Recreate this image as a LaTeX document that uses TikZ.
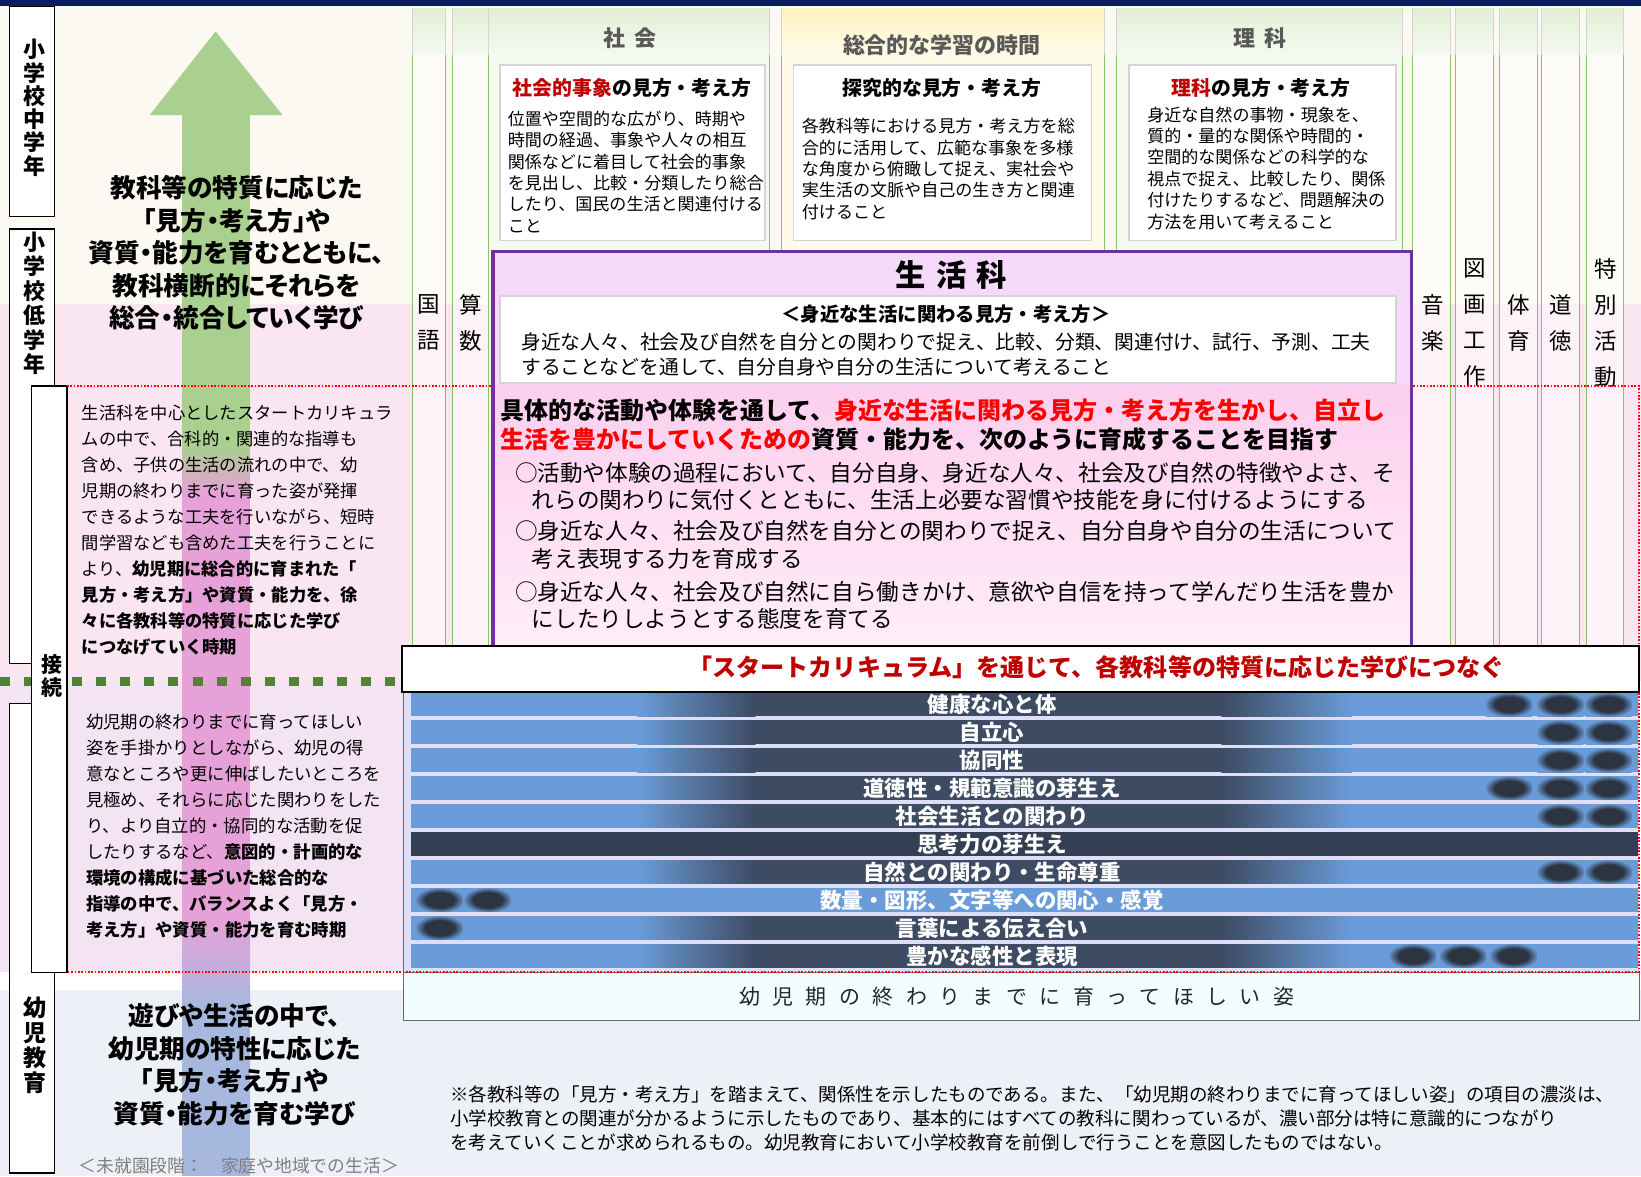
\documentclass[tikz,border=0pt]{standalone}
\usepackage{fontspec}
\setmainfont{Noto Sans CJK JP}
\newfontfamily\jpp{Noto Sans CJK JP}[RawFeature=+palt]
\definecolor{navybar}{HTML}{0B1F5C}
\definecolor{bgcream}{HTML}{FBF9F1}
\definecolor{bgpink}{HTML}{FAE6F1}
\definecolor{bglav}{HTML}{F4E3F2}
\definecolor{bgblue}{HTML}{EEF0F7}
\definecolor{arrgreen}{HTML}{A9D08E}
\definecolor{arrpink}{HTML}{E6A2D8}
\definecolor{arrblue}{HTML}{A7B8DE}
\definecolor{colgreen}{HTML}{8CC168}
\definecolor{colhead}{HTML}{E2EFD6}
\definecolor{colbody}{HTML}{F5FAF0}
\definecolor{yelhead}{HTML}{FFF2C2}
\definecolor{yelbody}{HTML}{FFFBE9}
\definecolor{boxgray}{HTML}{D4D4D4}
\definecolor{headgray}{HTML}{595959}
\definecolor{deepred}{HTML}{C00000}
\definecolor{brightred}{HTML}{FF0000}
\definecolor{skpurple}{HTML}{7030A0}
\definecolor{sktop}{HTML}{F5D9F8}
\definecolor{skpinktop}{HTML}{FDCFEF}
\definecolor{skpinkbot}{HTML}{FFEEF7}
\definecolor{dotgreen}{HTML}{548235}
\definecolor{barlight}{HTML}{6A9CD9}
\definecolor{bardark}{HTML}{3D4B63}
\definecolor{bardeep}{HTML}{343F54}
\definecolor{blobdark}{HTML}{2C3442}
\definecolor{gaplav}{HTML}{DEDFF7}
\definecolor{endfill}{HTML}{F2FDFE}
\definecolor{endline}{HTML}{5E6B7D}
\definecolor{notegray}{HTML}{7F7F7F}
\pgfdeclareradialshading{blob}{\pgfpoint{0bp}{0bp}}{color(0bp)=(blobdark); color(16bp)=(blobdark); color(27bp)=(barlight); color(50bp)=(barlight)}
\newcommand{\kgap}{\hspace{11.9pt}}
\tikzset{
  stagebox/.style={draw=black, line width=1.4pt, fill=white},
  stagelabel/.style={font=\bfseries\fontsize{21}{22.2}\selectfont, align=center, inner sep=0pt, anchor=north},
  bigbold/.style={font=\jpp\bfseries\fontsize{24.5}{31}\selectfont, align=center, inner sep=0pt, anchor=north},
  leftbody/.style={align=left, inner sep=0pt, anchor=north west, text=black},
  subjlabel/.style={font=\fontsize{21.5}{34.3}\selectfont, align=center, inner sep=0pt, anchor=north},
  colhead/.style={font=\bfseries\fontsize{21}{24}\selectfont, text=headgray, inner sep=0pt},
  whitebox/.style={draw=boxgray, line width=1.5pt, fill=white},
  boxtitle/.style={font=\bfseries\fontsize{19}{22}\selectfont, inner sep=0pt},
  boxbody/.style={font=\fontsize{16.3}{20.4}\selectfont, align=left, inner sep=0pt, anchor=north west},
  skbold/.style={font=\bfseries\fontsize{22.9}{28}\selectfont, inner sep=0pt, anchor=west},
  skitem/.style={font=\fontsize{21.6}{26.3}\selectfont, align=left, inner sep=0pt, anchor=north west},
  skline/.style={font=\fontsize{18.9}{24}\selectfont, inner sep=0pt, anchor=west},
  bartext/.style={font=\bfseries\fontsize{20.5}{22}\selectfont, text=white, inner sep=0pt},
  column/.style={draw=colgreen, line width=0.9pt},
}
\begin{document}
\begin{tikzpicture}[x=1pt,y=-1pt]
\useasboundingbox (0,0) rectangle (1568,1124);
\fill[white] (0,0) rectangle (1568,1124);
\fill[bgcream] (0,6) rectangle (1568,290);
\fill[bgpink] (0,290) rectangle (1568,651);
\fill[bglav] (0,651) rectangle (385,929);
\fill[bgblue] (0,946) rectangle (1568,1124);
\fill[navybar] (0,0) rectangle (1568,6);

\fill[arrgreen] (143,110) -- (206,30) -- (270,110) -- cycle;
\fill[arrgreen] (174,108) rectangle (239,425);
\shade[top color=arrgreen, bottom color=arrpink] (174,424.5) rectangle (239,470);
\fill[arrpink] (174,469.5) rectangle (239,880);
\shade[top color=arrpink, bottom color=arrblue] (174,879.5) rectangle (239,960);
\fill[arrblue] (174,959.5) rectangle (239,1124);

\foreach \xa/\xb in {394/426,432/467,1350/1386,1391/1427,1433/1469,1473/1509,1516/1551} {
  \shade[top color=colhead, bottom color=colbody] (\xa,8) rectangle (\xb,53);
  \fill[white, fill opacity=0.5] (\xa,53) rectangle (\xb,617);
  \draw[boxgray, line width=0.8pt] (\xa,8) -- (\xa,53) (\xb,8) -- (\xb,53);
  \draw[column] (\xa,53) -- (\xa,617) (\xb,53) -- (\xb,617);
}
\foreach \xa/\xb/\ch/\cb in {467/735/colhead/colbody,747/1055/yelhead/yelbody,1067/1340/colhead/colbody} {
  \shade[top color=\ch, bottom color=\cb] (\xa,8) rectangle (\xb,53);
  \fill[\cb] (\xa,53) rectangle (\xb,617);
  \draw[boxgray, line width=0.8pt] (\xa,8) -- (\xa,53) (\xb,8) -- (\xb,53);
  \draw[column] (\xa,53) -- (\xa,617) (\xb,53) -- (\xb,617);
}

\node[colhead] (shakaihead) at (602,36) {社\hspace{9pt}会};
\node[colhead] (sogohead) at (900,43) {総合的な学習の時間};
\node[colhead] (rikahead) at (1204,36) {理\hspace{9pt}科};

\draw[whitebox] (478,62) rectangle (731,230);
\node[boxtitle] (shakaititle) at (604,84) {\textcolor{deepred}{社会的事象}の見方・考え方};
\node[boxbody] (shakaibody) at (485,105.85) {位置や空間的な広がり、時期や\\時間の経過、事象や人々の相互\\関係などに着目して社会的事象\\を見出し、比較・分類したり総合\\したり、国民の生活と関連付ける\\こと};
\draw[whitebox] (758,62) rectangle (1043,230);
\node[boxtitle] (sogotitle) at (900,84) {探究的な見方・考え方};
\node[boxbody] (sogobody) at (766,112.85) {各教科等における見方・考え方を総\\合的に活用して、広範な事象を多様\\な角度から俯瞰して捉え、実社会や\\実生活の文脈や自己の生き方と関連\\付けること};
\draw[whitebox] (1079,62) rectangle (1334,230);
\node[boxtitle] (rikatitle) at (1205,84) {\textcolor{deepred}{理科}の見方・考え方};
\node[boxbody] (rikabody) at (1096,101.85) {身近な自然の事物・現象を、\\質的・量的な関係や時間的・\\空間的な関係などの科学的な\\視点で捉え、比較したり、関係\\付けたりするなど、問題解決の\\方法を用いて考えること};

\node[subjlabel] (kokugo) at (410,281.25) {国\\語};
\node[subjlabel] (sansu) at (450,281.25) {算\\数};
\node[subjlabel] (ongaku) at (1369,281.25) {音\\楽};
\node[subjlabel] (zuga) at (1409,247.25) {図\\画\\工\\作};
\node[subjlabel] (taiiku) at (1451,281.25) {体\\育};
\node[subjlabel] (dotoku) at (1491,281.25) {道\\徳};
\node[subjlabel] (tokkatsu) at (1534,247.25) {特\\別\\活\\動};

\draw[dotgreen, line width=9pt, dash pattern=on 9.5pt off 13.5pt] (0,651) -- (385,651);

\draw[stagebox] (9,6) rectangle (52,207);
\node[stagelabel] (chugaku) at (33,37.5) {小\\学\\校\\中\\学\\年};
\draw[stagebox] (9,219) rectangle (52,634);
\node[stagelabel, font=\bfseries\fontsize{21}{23.4}\selectfont] (teigaku) at (33,221.5) {小\\学\\校\\低\\学\\年};
\draw[stagebox] (9,672) rectangle (52,1121);
\node[stagelabel, font=\bfseries\fontsize{22}{24}\selectfont] (yoji) at (33,952) {幼\\児\\教\\育};
\draw[stagebox] (30,369) rectangle (64,929);
\node[stagelabel, font=\bfseries\fontsize{20}{22}\selectfont] (setsuzoku) at (49.5,625) {接\\続};

\node[bigbold] (shogakumanabi) at (226,167.75) {教科等の特質に応じた\\「見方・考え方」や\\資質・能力を育むとともに、\\教科横断的にそれらを\\総合・統合していく学び};
\node[leftbody, font=\fontsize{16.5}{24.8}\selectfont] (startjiki) at (78,386.75) {生活科を中心としたスタートカリキュラ\\ムの中で、合科的・関連的な指導も\\含め、子供の生活の流れの中で、幼\\児期の終わりまでに育った姿が発揮\\できるような工夫を行いながら、短時\\間学習なども含めた工夫を行うことに\\より、\textbf{幼児期に総合的に育まれた「}\\\textbf{見方・考え方」や資質・能力を、徐}\\\textbf{々に各教科等の特質に応じた学び}\\\textbf{につなげていく時期}};
\node[leftbody, font=\fontsize{16.6}{24.9}\selectfont] (yojijiki) at (82,681.7) {幼児期の終わりまでに育ってほしい\\姿を手掛かりとしながら、幼児の得\\意なところや更に伸ばしたいところを\\見極め、それらに応じた関わりをした\\り、より自立的・協同的な活動を促\\したりするなど、\textbf{意図的・計画的な}\\\textbf{環境の構成に基づいた総合的な}\\\textbf{指導の中で、バランスよく「見方・}\\\textbf{考え方」や資質・能力を育む時期}};
\node[bigbold] (yojimanabi) at (224,958.75) {遊びや生活の中で、\\幼児期の特性に応じた\\「見方・考え方」や\\資質・能力を育む学び};
\node[font=\fontsize{17}{20}\selectfont, text=notegray, anchor=west, inner sep=0pt] (mishuen) at (75,1114) {＜未就園段階：　家庭や地域での生活＞};

\fill[gaplav] (385,661) rectangle (1566,929);
\foreach \txt [count=\i from 0] in {健康な心と体,自立心,協同性,道徳性・規範意識の芽生え,社会生活との関わり,思考力の芽生え,自然との関わり・生命尊重,数量・図形、文字等への関心・感覚,言葉による伝え合い,豊かな感性と表現} {
  \pgfmathsetmacro{\yc}{673+26.7*\i}
  \fill[barlight] (393,\yc-11.3) rectangle (1565,\yc+11.3);
  \ifnum\i=7\else
    \shade[left color=barlight, right color=bardark] (609,\yc-11.3) rectangle (722,\yc+11.3);
    \fill[bardark] (721.5,\yc-11.3) rectangle (1167.5,\yc+11.3);
    \shade[left color=bardark, right color=barlight] (1167,\yc-11.3) rectangle (1292,\yc+11.3);
  \fi
  \ifnum\i=5
    \fill[bardeep] (393,\yc-11.3) rectangle (1565,\yc+11.3);
  \fi
}
\foreach \bx/\bi in {1442/0,1491/0,1537/0,1491/1,1537/1,1491/2,1537/2,1442/3,1491/3,1537/3,1491/4,1537/4,1491/6,1537/6,420/7,466/7,420/8,1350/9,1398/9,1446/9} {
  \pgfmathsetmacro{\yc}{673+26.7*\bi}
  \shade[shading=blob] (\bx-22,\yc-11.3) rectangle (\bx+22,\yc+11.3);
}
\foreach \txt [count=\i from 0] in {健康な心と体,自立心,協同性,道徳性・規範意識の芽生え,社会生活との関わり,思考力の芽生え,自然との関わり・生命尊重,数量・図形、文字等への関心・感覚,言葉による伝え合い,豊かな感性と表現} {
  \pgfmathsetmacro{\yc}{673+26.7*\i}
  \node[bartext] (bar\i) at (948,\yc) {\txt};
}
\draw[endline, line width=0.8pt] (385,661) -- (385,929);
\draw[endline, fill=endfill, line width=0.8pt] (385,929) rectangle (1566,975);
\node[font=\fontsize{20}{24}\selectfont, text=black!85, inner sep=0pt] (sugata) at (971.5,952) {幼\kgap 児\kgap 期\kgap の\kgap 終\kgap わ\kgap り\kgap ま\kgap で\kgap に\kgap 育\kgap っ\kgap て\kgap ほ\kgap し\kgap い\kgap 姿};

\draw[brightred, line width=1.6pt, dash pattern=on 1.6pt off 1.6pt] (64,369) -- (1566,369) -- (1566,929) -- (64,929);

\fill[sktop] (471,240) rectangle (1349,369);
\shade[top color=skpinktop, bottom color=skpinkbot] (471,368.5) rectangle (1349,617);
\draw[skpurple, line width=3pt] (471,617) -- (471,240) -- (1349,240) -- (1349,617);
\node[font=\bfseries\fontsize{29}{32}\selectfont, inner sep=0pt] (seikatsuka) at (909,263) {生\hspace{10pt}活\hspace{10pt}科};
\draw[whitebox] (478,283) rectangle (1334,366);
\node[font=\bfseries\fontsize{18.5}{22}\selectfont, inner sep=0pt] (skviewhead) at (904,300) {＜身近な生活に関わる見方・考え方＞};
\node[skline] (skview1) at (498,327) {身近な人々、社会及び自然を自分との関わりで捉え、比較、分類、関連付け、試行、予測、工夫};
\node[skline] (skview2) at (498,351) {することなどを通して、自分自身や自分の生活について考えること};
\node[skbold] (skaim1) at (478,392) {具体的な活動や体験を通して、\textcolor{brightred}{身近な生活に関わる見方・考え方を生かし、自立し}};
\node[skbold] (skaim2) at (478,420) {\textcolor{brightred}{生活を豊かにしていくための}資質・能力を、次のように育成することを目指す};
\node[skitem] (item1) at (492,441.2) {○活動や体験の過程において、自分自身、身近な人々、社会及び自然の特徴やよさ、そ\\\hspace*{16pt}れらの関わりに気付くとともに、生活上必要な習慣や技能を身に付けるようにする};
\node[skitem] (item2) at (492,497.2) {○身近な人々、社会及び自然を自分との関わりで捉え、自分自身や自分の生活について\\\hspace*{16pt}考え表現する力を育成する};
\node[skitem] (item3) at (492,555.2) {○身近な人々、社会及び自然に自ら働きかけ、意欲や自信を持って学んだり生活を豊か\\\hspace*{16pt}にしたりしようとする態度を育てる};

\draw[black, line width=2pt, fill=white] (384,617) rectangle (1566,661);
\node[font=\bfseries\fontsize{23}{26}\selectfont, text=deepred, inner sep=0pt] (startcurr) at (1048,638) {「スタートカリキュラム」を通じて、各教科等の特質に応じた学びにつなぐ};

\node[font=\fontsize{17.7}{23}\selectfont, align=left, anchor=north west, inner sep=0pt] (note) at (430,1037.25) {※各教科等の「見方・考え方」を踏まえて、関係性を示したものである。また、「幼児期の終わりまでに育ってほしい姿」の項目の濃淡は、\\小学校教育との関連が分かるように示したものであり、基本的にはすべての教科に関わっているが、濃い部分は特に意識的につながり\\を考えていくことが求められるもの。幼児教育において小学校教育を前倒しで行うことを意図したものではない。};
\end{tikzpicture}
\end{document}
